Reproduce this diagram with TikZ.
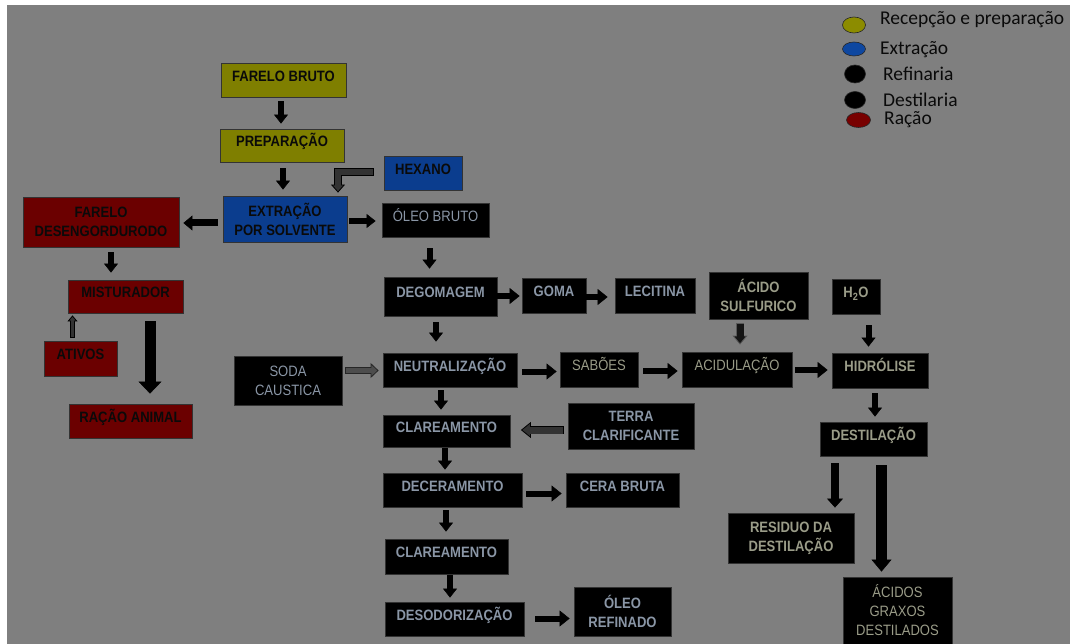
\documentclass[tikz,border=0pt]{standalone}
\usepackage{fontspec}
\usetikzlibrary{arrows.meta,calc}
\newfontfamily\arialf[FakeStretch=0.87]{Liberation Sans}
\newfontfamily\calf{Carlito}
\definecolor{bg}{HTML}{7F7F7F}
\definecolor{yelc}{HTML}{7F7F00}
\definecolor{bluc}{HTML}{0B3D8E}
\definecolor{redc}{HTML}{6B0000}
\definecolor{bord}{HTML}{333333}
\definecolor{txtk}{HTML}{0A0A0A}
\definecolor{reftxt}{HTML}{8A96A6}
\definecolor{destxt}{HTML}{9A9C88}
\definecolor{legy}{HTML}{8C8C00}
\definecolor{legb}{HTML}{0E47A0}
\definecolor{legr}{HTML}{780000}
\definecolor{darkg}{HTML}{333333}
\definecolor{midg}{HTML}{4D4D4D}
\tikzset{
  box/.style={rectangle, draw=bord, line width=0.8pt, inner sep=0pt,
    font=\arialf\bfseries\fontsize{15}{19}\selectfont},
  reg/.style={font=\arialf\fontsize{15}{19}\selectfont},
  one/.style={text height=10.7pt, text depth=8pt},
  multi/.style={align=center},
  yel/.style={box, fill=yelc, text=txtk},
  blu/.style={box, fill=bluc, text=txtk},
  red/.style={box, fill=redc, text=txtk},
  ref/.style={box, fill=black, text=reftxt},
  des/.style={box, fill=black, text=destxt},
  sz/.style 2 args={minimum width=#1pt, minimum height=#2pt},
  arr/.style n args={3}{draw=black, line width=#1pt,
    -{Triangle[width=#2pt,length=#3pt,line width=0.5pt]}},
  sarr/.style={arr={6}{14}{9}},
  harr/.style={arr={6}{16}{10}},
  legt/.style={font=\calf\fontsize{19.5}{24}\selectfont, text=txtk, inner sep=0pt, anchor=base west},
  legdot/.style={draw=black!85, line width=0.6pt},
}
\begin{document}
\begin{tikzpicture}[x=1pt,y=-1pt]
\useasboundingbox (0,0) rectangle (1070,644);
\fill[white] (0,0) rectangle (1070,644);
\fill[bg] (7,5) rectangle (1070,644);

% legend
\fill[legy,legdot] (854,25) ellipse [x radius=11.5, y radius=8];
\fill[legb,legdot] (854,49) ellipse [x radius=11.5, y radius=7];
\fill[black,legdot] (855,74) ellipse [x radius=10.5, y radius=9];
\fill[black,legdot] (855,100) ellipse [x radius=10.5, y radius=8.5];
\fill[legr,legdot] (858.5,120) ellipse [x radius=12, y radius=7.5];
\node[legt] (l1) at (880,25) {Recepção e preparação};
\node[legt] (l2) at (880,55) {Extração};
\node[legt] (l3) at (883,81) {Refinaria};
\node[legt] (l4) at (883,107) {Destilaria};
\node[legt] (l5) at (884,125) {Ração};

% boxes
\node[yel,one,sz={125}{34}] (fb) at (283.5,80) {FARELO BRUTO};
\node[yel,one,sz={124}{33}] (prep) at (282,145.5) {PREPARAÇÃO};
\node[blu,one,sz={78}{34}] (hex) at (423,173) {HEXANO};
\node[blu,multi,sz={124}{46}] (extr) at (285,219) {EXTRAÇÃO\\POR SOLVENTE};
\node[red,multi,sz={156}{50}] (fdes) at (101,222) {FARELO\\DESENGORDURODO};
\node[red,one,sz={115}{33}] (mist) at (125.5,296.5) {MISTURADOR};
\node[red,one,sz={73}{35}] (ativ) at (80.5,358.5) {ATIVOS};
\node[red,one,sz={123}{34}] (racao) at (130.5,421) {RAÇÃO ANIMAL};
\node[ref,multi,reg,sz={108}{49}] (soda) at (288,380.5) {SODA\\CAUSTICA};
\node[ref,one,reg,sz={107}{34}] (oleo) at (435.5,220) {ÓLEO BRUTO};
\node[ref,one,sz={113}{39}] (degom) at (440.5,296.5) {DEGOMAGEM};
\node[ref,one,sz={64}{35}] (goma) at (554,295.5) {GOMA};
\node[ref,one,sz={80}{35}] (lec) at (655,295.5) {LECITINA};
\node[ref,one,sz={134}{34}] (neut) at (450,370) {NEUTRALIZAÇÃO};
\node[des,one,reg,sz={78}{35}] (sab) at (599,369.5) {SABÕES};
\node[ref,one,sz={127}{32}] (clar1) at (446.5,431) {CLAREAMENTO};
\node[ref,multi,sz={126}{46}] (terra) at (631,426) {TERRA\\CLARIFICANTE};
\node[ref,one,sz={139}{34}] (decer) at (452.5,490) {DECERAMENTO};
\node[ref,one,sz={113}{34}] (cera) at (622.5,490) {CERA BRUTA};
\node[ref,one,sz={123}{35}] (clar2) at (446.5,556.5) {CLAREAMENTO};
\node[ref,one,sz={139}{34}] (desod) at (454.5,619) {DESODORIZAÇÃO};
\node[ref,multi,sz={97}{49}] (olref) at (622.5,611.5) {ÓLEO\\REFINADO};
\node[des,multi,sz={99}{47}] (acs) at (758.5,295.5) {ÁCIDO\\SULFURICO};
\node[des,one,sz={48}{35}] (h2o) at (856,296.5) {H\textsubscript{2}O};
\node[des,one,reg,sz={110}{35}] (acid) at (737,369.5) {ACIDULAÇÃO};
\node[des,one,sz={96}{35}] (hidr) at (880,370.5) {HIDRÓLISE};
\node[des,one,sz={107}{34}] (dest) at (873.5,439) {DESTILAÇÃO};
\node[des,multi,sz={126}{50}] (resid) at (791,538) {RESIDUO DA\\DESTILAÇÃO};
\node[des,multi,reg,sz={109}{67}] (acgr) at (897.5,610.5) {ÁCIDOS\\GRAXOS\\DESTILADOS};

% solid arrows
\draw[sarr,shorten <=4pt,shorten >=5pt] ([xshift=-2.5pt]fb.south) -- ([xshift=-2.5pt]fb.south |- prep.north);
\draw[sarr,shorten <=6pt,shorten >=6pt] ([xshift=1pt]prep.south) -- ([xshift=1pt]prep.south |- extr.north);
\draw[arr={7}{15}{9},shorten <=5pt,shorten >=4pt] ([yshift=-4pt]extr.west) -- ([yshift=-4pt]extr.west -| fdes.east);
\draw[sarr,shorten <=2pt,shorten >=6pt] ([yshift=-2pt]extr.east) -- ([yshift=-2pt]extr.east -| oleo.west);
\draw[sarr,shorten <=5pt,shorten >=7pt] ([xshift=10pt]fdes.south) -- ([xshift=10pt]fdes.south |- mist.north);
\draw[arr={11}{23}{12},shorten <=8pt,shorten >=10pt] ([xshift=24.5pt]mist.south) -- ([xshift=24.5pt]mist.south |- racao.north);
\draw[sarr,shorten <=11pt,shorten >=8pt] ([xshift=-6pt]oleo.south) -- ([xshift=-6pt]oleo.south |- degom.north);
\draw[harr,shorten <=0pt,shorten >=2pt] ([yshift=0.5pt]degom.east) -- ([yshift=0.5pt]degom.east -| goma.west);
\draw[harr,shorten <=0pt,shorten >=7pt] ([yshift=-1.5pt]goma.east) -- ([yshift=-1.5pt]goma.east -| lec.west);
\draw[sarr,shorten <=6pt,shorten >=11pt] ([xshift=-4.5pt]degom.south) -- ([xshift=-4.5pt]degom.south |- neut.north);
\draw[harr,shorten <=5pt,shorten >=3pt] ([yshift=-1.5pt]neut.east) -- ([yshift=-1.5pt]neut.east -| sab.west);
\draw[harr,shorten <=5pt,shorten >=4pt] ([yshift=-1.5pt]sab.east) -- ([yshift=-1.5pt]sab.east -| acid.west);
\draw[sarr,shorten <=11pt,shorten >=6pt] ([xshift=12.5pt]h2o.south) -- ([xshift=12.5pt]h2o.south |- hidr.north);
\draw[harr,shorten <=3pt,shorten >=4pt] ([yshift=-0.5pt]acid.east) -- ([yshift=-0.5pt]acid.east -| hidr.west);
\draw[sarr,shorten <=5pt,shorten >=5pt] ([xshift=-5pt]hidr.south) -- ([xshift=-5pt]hidr.south |- dest.north);
\draw[sarr,shorten <=3pt,shorten >=5pt] ([xshift=-9pt]neut.south) -- ([xshift=-9pt]neut.south |- clar1.north);
\draw[sarr,shorten <=1pt,shorten >=3pt] ([xshift=-1.5pt]clar1.south) -- ([xshift=-1.5pt]clar1.south |- decer.north);
\draw[harr,shorten <=4pt,shorten >=4pt] ([yshift=-3.5pt]decer.east) -- ([yshift=-3.5pt]decer.east -| cera.west);
\draw[sarr,shorten <=3pt,shorten >=7pt] ([xshift=-6.5pt]decer.south) -- ([xshift=-6.5pt]decer.south |- clar2.north);
\draw[sarr,shorten <=1pt,shorten >=4pt] ([xshift=3.5pt]clar2.south) -- ([xshift=3.5pt]clar2.south |- desod.north);
\draw[harr,shorten <=11pt,shorten >=4pt] ([yshift=0.5pt]desod.east) -- ([yshift=0.5pt]desod.east -| olref.west);
\draw[arr={8}{16}{9},shorten <=7pt,shorten >=5pt] ([xshift=-38.5pt]dest.south) -- ([xshift=-38.5pt]dest.south |- resid.north);
\draw[arr={11}{20}{12},shorten <=9pt,shorten >=5pt] ([xshift=8pt]dest.south) -- ([xshift=8pt]dest.south |- acgr.north);

% outlined arrows (outline pass, then fill pass)
\draw[draw=black, line width=7.6pt, line join=miter, shorten >=3pt,
  -{Triangle[width=14pt,length=8pt,fill=darkg,line width=0.8pt]}]
  ([xshift=-10pt,yshift=1pt]hex.west) -| ([xshift=53pt]extr.north);
\draw[draw=darkg, line width=6pt, line join=miter, shorten >=9pt, shorten <=0.8pt]
  ([xshift=-10pt,yshift=1pt]hex.west) -| ([xshift=53pt]extr.north);

\draw[draw=black, line width=4.4pt, shorten <=3pt, shorten >=2pt,
  -{Triangle[width=10pt,length=6pt,fill=darkg,line width=0.8pt]}]
  ([xshift=-8pt]ativ.north) -- ([xshift=-8pt]ativ.north |- mist.south);
\draw[draw=darkg, line width=2.8pt, shorten <=3.8pt, shorten >=6pt]
  ([xshift=-8pt]ativ.north) -- ([xshift=-8pt]ativ.north |- mist.south);

\draw[draw=black!85, line width=6.6pt, shorten <=3pt, shorten >=4pt,
  -{Triangle[width=15pt,length=8pt,fill=midg,line width=0.8pt]}]
  ([yshift=10pt]soda.east) -- ([yshift=10pt]soda.east -| neut.west);
\draw[draw=midg, line width=5pt, shorten <=3.8pt, shorten >=10pt]
  ([yshift=10pt]soda.east) -- ([yshift=10pt]soda.east -| neut.west);

\draw[draw=black!65, line width=8.6pt, shorten <=4pt, shorten >=7pt,
  -{Triangle[width=15pt,length=9pt,fill=black!92,line width=0.8pt]}]
  ([xshift=-18.5pt]acs.south) -- ([xshift=-18.5pt]acs.south |- acid.north);
\draw[draw=black!92, line width=7pt, shorten <=4.8pt, shorten >=14pt]
  ([xshift=-18.5pt]acs.south) -- ([xshift=-18.5pt]acs.south |- acid.north);

\draw[draw=black, line width=8.6pt, shorten <=4pt, shorten >=10.5pt,
  -{Triangle[width=16pt,length=10pt,fill=darkg,line width=0.8pt]}]
  ([yshift=-4pt]terra.west) -- ([yshift=-4pt]terra.west -| clar1.east);
\draw[draw=darkg, line width=7pt, shorten <=4.8pt, shorten >=18.5pt]
  ([yshift=-4pt]terra.west) -- ([yshift=-4pt]terra.west -| clar1.east);
\end{tikzpicture}
\end{document}
